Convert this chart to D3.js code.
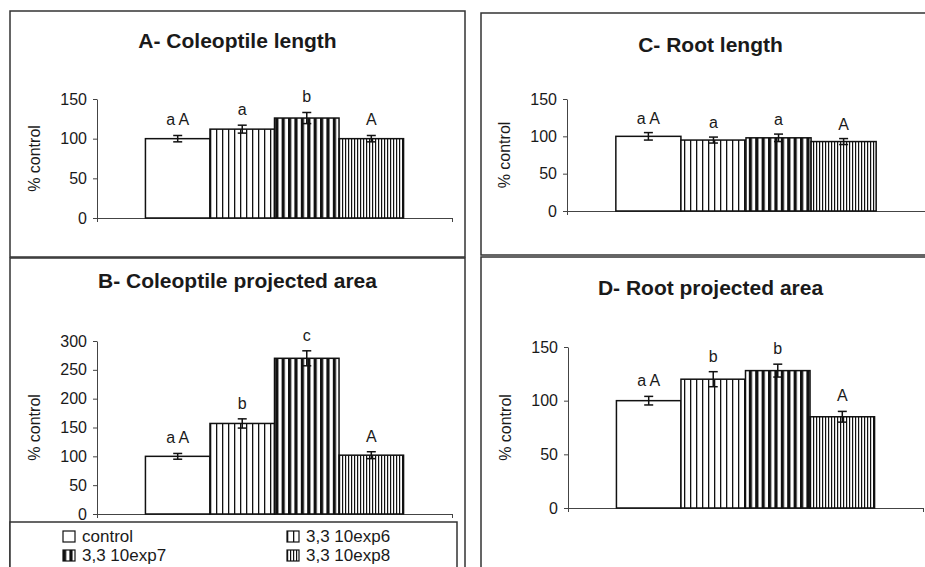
<!DOCTYPE html>
<html>
<head>
<meta charset="utf-8">
<script src="https://cdn.jsdelivr.net/npm/d3@7"></script>
<style>
  body { margin: 0; background: #fff; }
  svg text { font-family: "Liberation Sans", Arial, sans-serif; fill: #1a1a1a; }
</style>
</head>
<body>
<div id="chart"></div>
<script>
// series (treatments)
var series = ["control", "3,3 10exp6", "3,3 10exp7", "3,3 10exp8"];

// A- Coleoptile length
var coleoptileLength = [100, 112, 126, 100];
var coleoptileLengthErr = [4, 5, 7, 4];
var coleoptileLengthLetters = ["a A", "a", "b", "A"];

// C- Root length
var rootLength = [100, 95, 98, 93];
var rootLengthErr = [5, 4, 5, 4];
var rootLengthLetters = ["a A", "a", "a", "A"];

// B- Coleoptile projected area
var coleoptileArea = [100, 157, 270, 102];
var coleoptileAreaErr = [5, 8, 13, 6];
var coleoptileAreaLetters = ["a A", "b", "c", "A"];

// D- Root projected area
var rootArea = [100, 120, 128, 85];
var rootAreaErr = [4, 7, 6, 5];
var rootAreaLetters = ["a A", "b", "b", "A"];

var yTicks150 = [0, 50, 100, 150];
var yTicks300 = [0, 50, 100, 150, 200, 250, 300];

var width = 925, height = 567;
var svg = d3.select("#chart").append("svg")
    .attr("width", width)
    .attr("height", height);

// fill patterns, one per treatment
var defs = svg.append("defs");
function stripe(id, period, barW) {
    var p = defs.append("pattern")
        .attr("id", id)
        .attr("patternUnits", "userSpaceOnUse")
        .attr("width", period)
        .attr("height", 10);
    p.append("rect").attr("width", period).attr("height", 10).attr("fill", "#fff");
    p.append("rect").attr("width", barW).attr("height", 10).attr("fill", "#111");
}
stripe("p6", 6, 1.3);
stripe("p7", 6.4, 3.2);
stripe("p8", 3, 1.2);
var fills = ["#fff", "url(#p6)", "url(#p7)", "url(#p8)"];

var panels = [
    {title: "A- Coleoptile length", box: [10, 11, 465, 257], titleY: 48,
     x: [97, 452], y: [218, 99], max: 150, ticks: yTicks150,
     values: coleoptileLength, err: coleoptileLengthErr, letters: coleoptileLengthLetters, gap: 10},
    {title: "C- Root length", box: [481, 13, 945, 255], titleY: 52,
     x: [567, 925], y: [211, 99], max: 150, ticks: yTicks150,
     values: rootLength, err: rootLengthErr, letters: rootLengthLetters, gap: 9},
    {title: "B- Coleoptile projected area", box: [10, 258, 465, 600], titleY: 288,
     x: [97, 452], y: [514, 341], max: 300, ticks: yTicks300,
     values: coleoptileArea, err: coleoptileAreaErr, letters: coleoptileAreaLetters, gap: 10},
    {title: "D- Root projected area", box: [481, 257, 945, 600], titleY: 295,
     x: [568, 923], y: [508, 347], max: 150, ticks: yTicks150,
     values: rootArea, err: rootAreaErr, letters: rootAreaLetters, gap: 10}
];

panels.forEach(function(p) {
    var g = svg.append("g");

    g.append("rect")
        .attr("x", p.box[0]).attr("y", p.box[1])
        .attr("width", p.box[2] - p.box[0])
        .attr("height", p.box[3] - p.box[1])
        .attr("fill", "none")
        .attr("stroke", "#333")
        .attr("stroke-width", 1.5);

    g.append("text")
        .attr("x", (p.box[0] + Math.min(p.box[2], 940)) / 2)
        .attr("y", p.titleY)
        .attr("text-anchor", "middle")
        .attr("font-size", 21)
        .attr("font-weight", "bold")
        .text(p.title);

    var y = d3.scaleLinear().domain([0, p.max]).range(p.y);
    var group = d3.scaleBand().domain(["g"]).range(p.x)
        .paddingInner(0.158).paddingOuter(0.158);
    var x = d3.scaleBand().domain(series)
        .range([group("g"), group("g") + group.bandwidth()]);

    // axes
    var yAxis = g.append("g")
        .attr("transform", "translate(" + p.x[0] + ",0)")
        .call(d3.axisLeft(y).tickValues(p.ticks).tickSize(4).tickSizeOuter(0).tickPadding(6));
    yAxis.selectAll("text").attr("font-size", 16).style("fill", "#1a1a1a");
    yAxis.selectAll("line, path").attr("stroke", "#444");

    var xAxis = g.append("g")
        .attr("transform", "translate(0," + p.y[0] + ")")
        .call(d3.axisBottom(d3.scaleLinear().domain([0, 1]).range(p.x))
            .tickValues([0, 1]).tickFormat("").tickSize(4).tickSizeOuter(0));
    xAxis.selectAll("line, path").attr("stroke", "#444");

    g.append("text")
        .attr("transform", "translate(" + (p.x[0] - 57) + "," + ((p.y[0] + p.y[1]) / 2) + ") rotate(-90)")
        .attr("text-anchor", "middle")
        .attr("font-size", 16)
        .text("% control");

    // bars
    g.selectAll(".bar")
        .data(p.values)
        .enter().append("rect")
        .attr("class", "bar")
        .attr("x", function(d, i) { return x(series[i]); })
        .attr("y", function(d) { return y(d); })
        .attr("width", x.bandwidth())
        .attr("height", function(d) { return y(0) - y(d); })
        .attr("fill", function(d, i) { return fills[i]; })
        .attr("stroke", "#111")
        .attr("stroke-width", 1.5);

    // error bars
    var eb = g.selectAll(".err")
        .data(p.values)
        .enter().append("g")
        .attr("class", "err")
        .attr("stroke", "#111")
        .attr("stroke-width", 1.5);
    var cx = function(i) { return x(series[i]) + x.bandwidth() / 2; };
    eb.append("line")
        .attr("x1", function(d, i) { return cx(i); })
        .attr("x2", function(d, i) { return cx(i); })
        .attr("y1", function(d, i) { return y(d - p.err[i]); })
        .attr("y2", function(d, i) { return y(d + p.err[i]); });
    [-1, 1].forEach(function(s) {
        eb.append("line")
            .attr("x1", function(d, i) { return cx(i) - 4.5; })
            .attr("x2", function(d, i) { return cx(i) + 4.5; })
            .attr("y1", function(d, i) { return y(d + s * p.err[i]); })
            .attr("y2", function(d, i) { return y(d + s * p.err[i]); });
    });

    // significance letters
    g.selectAll(".letter")
        .data(p.values)
        .enter().append("text")
        .attr("class", "letter")
        .attr("x", function(d, i) { return cx(i); })
        .attr("y", function(d, i) { return y(d + p.err[i]) - p.gap; })
        .attr("text-anchor", "middle")
        .attr("font-size", 16)
        .text(function(d, i) { return p.letters[i]; });
});

// legend
var legend = svg.append("g");
legend.append("rect")
    .attr("x", 10).attr("y", 522)
    .attr("width", 447).attr("height", 80)
    .attr("fill", "#fff")
    .attr("stroke", "#333")
    .attr("stroke-width", 1.5);

var legendPos = [[63, 542], [287, 542], [63, 561], [287, 561]];
var item = legend.selectAll(".item")
    .data(series)
    .enter().append("g")
    .attr("class", "item")
    .attr("transform", function(d, i) {
        return "translate(" + legendPos[i][0] + "," + legendPos[i][1] + ")";
    });
item.append("rect")
    .attr("x", 0).attr("y", -11)
    .attr("width", 12).attr("height", 11)
    .attr("fill", function(d, i) { return fills[i]; })
    .attr("stroke", "#111")
    .attr("stroke-width", 1.2);
item.append("text")
    .attr("x", 19)
    .attr("y", 0)
    .attr("font-size", 17)
    .text(function(d) { return d; });
</script>
</body>
</html>
